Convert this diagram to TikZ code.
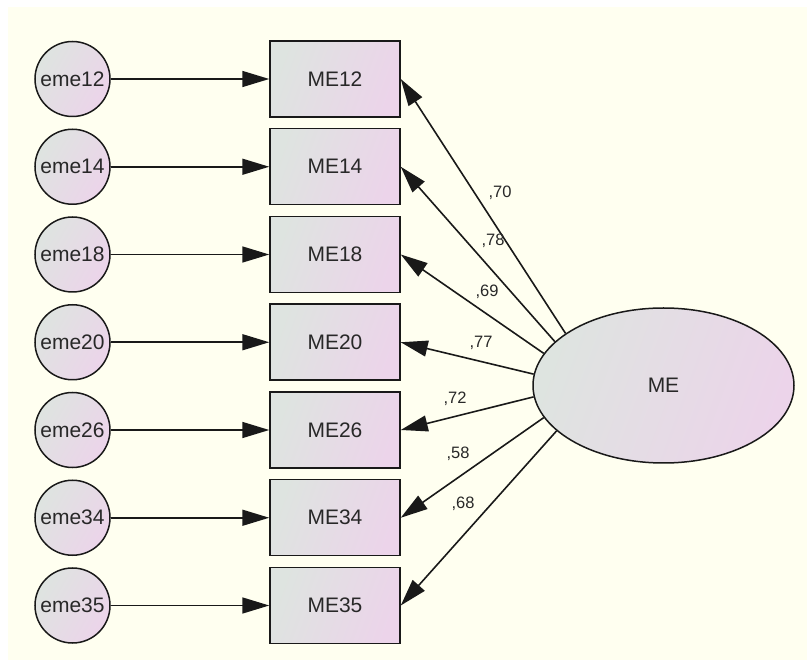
\documentclass[tikz,border=0pt]{standalone}
\usepackage{fontspec}
\setmainfont{Liberation Sans}
\usepackage{tikz}
\usetikzlibrary{arrows.meta, shapes.geometric}
\definecolor{mycream}{RGB}{255,255,240}
\definecolor{mygray}{RGB}{222,228,224}
\definecolor{mypink}{RGB}{236,212,234}
\definecolor{mydark}{RGB}{25,25,25}
\definecolor{mytext}{RGB}{40,40,40}
\tikzset{
  errnode/.style={circle, draw=mydark, line width=1.5pt, minimum size=75pt,
    inner sep=0pt, top color=mygray, bottom color=mypink, shading angle=60,
    font=\fontsize{21}{24}\selectfont, text=mytext},
  obsnode/.style={rectangle, draw=mydark, line width=1.5pt,
    minimum width=130pt, minimum height=76pt, inner sep=0pt,
    top color=mygray, bottom color=mypink, shading angle=70,
    font=\fontsize{21}{24}\selectfont, text=mytext},
  latnode/.style={ellipse, draw=mydark, line width=1.5pt,
    minimum width=261pt, minimum height=155pt, inner sep=0pt,
    top color=mygray, bottom color=mypink, shading angle=70,
    font=\fontsize{21}{24}\selectfont, text=mytext},
  arrow/.style={-{Triangle[length=27pt, width=16pt]}, line width=1.6pt, color=mydark},
  wlabel/.style={font=\fontsize{16.5}{18}\selectfont, text=mytext, inner sep=0pt}
}
\begin{document}
\begin{tikzpicture}[x=1pt, y=-1pt]
  \useasboundingbox (0,0) rectangle (807,660);
  % background
  \fill[white] (0,0) rectangle (807,660);
  \fill[mycream] (8,7) rectangle (807,660);
  % error terms and observed items
  \foreach \n [count=\i from 0] in {12,14,18,20,26,34,35} {
    \node[errnode] (e\n) at (72.5, 79+87.75*\i) {eme\n};
    \node[obsnode] (m\n) at (335, 79+87.75*\i) {ME\n};
    \draw[arrow] (e\n) -- (m\n);
  }
  % latent factor
  \node[latnode] (ME) at (663.5,385.5) {ME};
  % loadings
  \foreach \n/\a/\w/\lx/\ly in {12/152.5/70/500/193, 14/158.7/78/493/241,
      18/165.5/69/487/292, 20/175.2/77/481/343, 26/185.7/72/455/399,
      34/195.4/58/458/454, 35/203/68/463/504} {
    \draw[arrow] (ME.\a) -- (m\n.east);
    \node[wlabel] (w\n) at (\lx,\ly) {,\w};
  }
\end{tikzpicture}
\end{document}
